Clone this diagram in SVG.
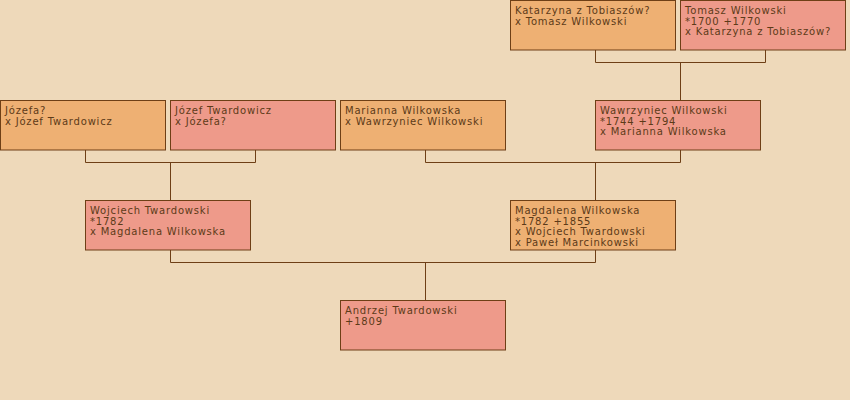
<svg xmlns="http://www.w3.org/2000/svg" width="850" height="400" viewBox="0 0 850 400">
<style>
.bg{fill:#EED9BA}
.f{fill:#EEB073;stroke:#6E3F16;stroke-width:1}
.m{fill:#EE9A8A;stroke:#6E3F16;stroke-width:1}
text{font-family:"DejaVu Sans",sans-serif;font-size:10px;letter-spacing:0.8px;fill:#5C3A18}
.c{fill:none;stroke:#6E3F16;stroke-width:1}
</style>
<rect class="bg" x="0" y="0" width="850" height="400"/>
<g id="connectors">
<path class="c" d="M595.5,50 V62.5 H765.5 V50 M680.5,62.5 V100"/>
<path class="c" d="M85.5,150 V162.5 H255.5 V150 M170.5,162.5 V200"/>
<path class="c" d="M425.5,150 V162.5 H680.5 V150 M595.5,162.5 V200"/>
<path class="c" d="M170.5,250 V262.5 H595.5 V250 M425.5,262.5 V300"/>
</g>
<g id="katarzyna"><rect class="f" x="510.5" y="0.5" width="165" height="49.5"/><text x="515" y="14">Katarzyna z Tobiaszów?</text><text x="515" y="24.5">x Tomasz Wilkowski</text></g>
<g id="tomasz"><rect class="m" x="680.5" y="0.5" width="165" height="49.5"/><text x="685" y="14">Tomasz Wilkowski</text><text x="685" y="24.5">*1700 +1770</text><text x="685" y="35">x Katarzyna z Tobiaszów?</text></g>
<g id="jozefa"><rect class="f" x="0.5" y="100.5" width="165" height="49.5"/><text x="5" y="114">Józefa?</text><text x="5" y="124.5">x Józef Twardowicz</text></g>
<g id="jozef"><rect class="m" x="170.5" y="100.5" width="165" height="49.5"/><text x="175" y="114">Józef Twardowicz</text><text x="175" y="124.5">x Józefa?</text></g>
<g id="marianna"><rect class="f" x="340.5" y="100.5" width="165" height="49.5"/><text x="345" y="114">Marianna Wilkowska</text><text x="345" y="124.5">x Wawrzyniec Wilkowski</text></g>
<g id="wawrzyniec"><rect class="m" x="595.5" y="100.5" width="165" height="49.5"/><text x="600" y="114">Wawrzyniec Wilkowski</text><text x="600" y="124.5">*1744 +1794</text><text x="600" y="135">x Marianna Wilkowska</text></g>
<g id="wojciech"><rect class="m" x="85.5" y="200.5" width="165" height="49.5"/><text x="90" y="214">Wojciech Twardowski</text><text x="90" y="224.5">*1782</text><text x="90" y="235">x Magdalena Wilkowska</text></g>
<g id="magdalena"><rect class="f" x="510.5" y="200.5" width="165" height="49.5"/><text x="515" y="214">Magdalena Wilkowska</text><text x="515" y="224.5">*1782 +1855</text><text x="515" y="235">x Wojciech Twardowski</text><text x="515" y="245.5">x Paweł Marcinkowski</text></g>
<g id="andrzej"><rect class="m" x="340.5" y="300.5" width="165" height="49.5"/><text x="345" y="314">Andrzej Twardowski</text><text x="345" y="324.5">+1809</text></g>
</svg>
